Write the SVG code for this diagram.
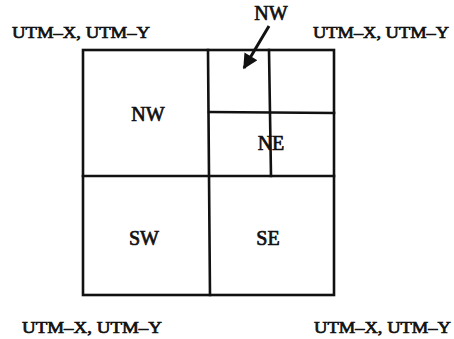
<svg xmlns="http://www.w3.org/2000/svg" width="454" height="339" viewBox="0 0 454 339">
  <style>
    .grid { fill: none; stroke: #111; stroke-width: 2.6; stroke-linecap: square; }
    .lbl { font-family: "Liberation Serif", "Times New Roman", serif; font-size: 17px; fill: #111; stroke: #111; stroke-width: 0.7; }
    .q { text-anchor: middle; font-size: 20px; }
  </style>
  <defs>
    <marker id="head" viewBox="0 0 10 10" refX="9" refY="5" markerWidth="5.5" markerHeight="5" orient="auto">
      <path d="M0,0 L10,5 L0,10 z" fill="#111"/>
    </marker>
  </defs>
  <rect width="454" height="339" fill="#fff"/>

  <!-- quadtree cells -->
  <g id="grid">
    <rect class="grid" x="83" y="50" width="251" height="245" stroke-width="3"/>
    <path class="grid" d="M208,50 L209,176 L210,295"/>
    <path class="grid" d="M83,176 L334,176"/>
    <path class="grid" d="M209,112 L334,113"/>
    <path class="grid" d="M269,50 L271,176"/>
  </g>

  <g id="quad-nw"><text class="lbl q" x="148" y="121">NW</text></g>
  <g id="quad-sw"><text class="lbl q" x="144" y="245">SW</text></g>
  <g id="quad-se"><text class="lbl q" x="268" y="245">SE</text></g>
  <g id="quad-ne"><text class="lbl q" x="271" y="150">NE</text></g>

  <!-- sub-quadrant pointer -->
  <g id="pointer">
    <text class="lbl q" x="271" y="20" font-size="15">NW</text>
  </g>
  <g id="connectors">
    <line x1="269" y1="26" x2="244" y2="68" stroke="#111" stroke-width="3" marker-end="url(#head)"/>
  </g>

  <!-- corner coordinates -->
  <g id="corner-tl"><text class="lbl" x="12" y="38" textLength="138" lengthAdjust="spacingAndGlyphs">UTM–X, UTM–Y</text></g>
  <g id="corner-tr"><text class="lbl" x="313" y="38" textLength="136" lengthAdjust="spacingAndGlyphs">UTM–X, UTM–Y</text></g>
  <g id="corner-bl"><text class="lbl" x="22" y="333" textLength="140" lengthAdjust="spacingAndGlyphs">UTM–X, UTM–Y</text></g>
  <g id="corner-br"><text class="lbl" x="314" y="333" textLength="137" lengthAdjust="spacingAndGlyphs">UTM–X, UTM–Y</text></g>
</svg>
